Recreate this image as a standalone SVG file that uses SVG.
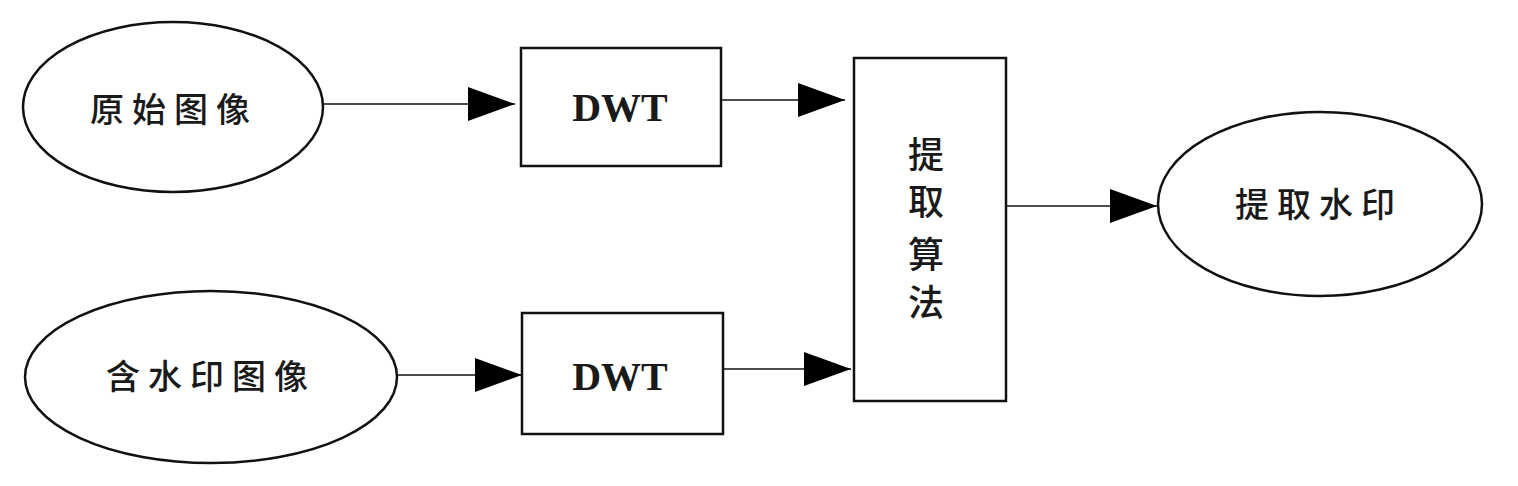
<svg xmlns="http://www.w3.org/2000/svg" width="1518" height="486" viewBox="0 0 1518 486">
<style>
.shape{fill:#fff;stroke:#111;stroke-width:2.5}
.cn{font-family:"Noto Sans CJK SC","Noto Sans CJK JP",sans-serif;font-size:34px;font-weight:500;fill:#1a1a1a;text-anchor:middle;letter-spacing:8px}
.cnv{font-family:"Noto Sans CJK SC","Noto Sans CJK JP",sans-serif;font-size:36px;font-weight:500;fill:#1a1a1a;text-anchor:middle}
.en{font-family:"Liberation Serif","Times New Roman",serif;font-size:40px;font-weight:bold;fill:#1a1a1a;text-anchor:middle}
.edge{fill:none;stroke:#111;stroke-width:1.6}
</style>
<defs>
<marker id="arr" markerUnits="userSpaceOnUse" markerWidth="48" markerHeight="34" refX="47" refY="17" orient="auto">
<path d="M0,0 L47,17 L0,34 Z" fill="#000"/>
</marker>
</defs>
<rect width="1518" height="486" fill="#fff"/>
<g id="connectors">
<line class="edge" x1="323" y1="104" x2="515" y2="104" marker-end="url(#arr)"/>
<line class="edge" x1="721" y1="100" x2="845" y2="100" marker-end="url(#arr)"/>
<line class="edge" x1="398" y1="375" x2="522" y2="375" marker-end="url(#arr)"/>
<line class="edge" x1="723" y1="369" x2="851" y2="369" marker-end="url(#arr)"/>
<line class="edge" x1="1006" y1="206" x2="1157" y2="206" marker-end="url(#arr)"/>
</g>
<g id="node-original">
<ellipse class="shape" cx="173" cy="107" rx="150" ry="85"/>
<text class="cn" x="174" y="122">原始图像</text>
</g>
<g id="node-watermarked">
<ellipse class="shape" cx="211" cy="377" rx="186" ry="86"/>
<text class="cn" x="211" y="389">含水印图像</text>
</g>
<g id="node-dwt1">
<rect class="shape" x="521" y="48" width="200" height="118"/>
<text class="en" x="620" y="121">DWT</text>
</g>
<g id="node-dwt2">
<rect class="shape" x="522" y="313" width="201" height="121"/>
<text class="en" x="620" y="390">DWT</text>
</g>
<g id="node-extract-algo">
<rect class="shape" x="854" y="58" width="152" height="343"/>
<text class="cnv" x="926" y="168">提</text>
<text class="cnv" x="926" y="215">取</text>
<text class="cnv" x="926" y="268">算</text>
<text class="cnv" x="926" y="316">法</text>
</g>
<g id="node-extracted">
<ellipse class="shape" cx="1320" cy="204" rx="162" ry="92"/>
<text class="cn" x="1319" y="217">提取水印</text>
</g>
</svg>
